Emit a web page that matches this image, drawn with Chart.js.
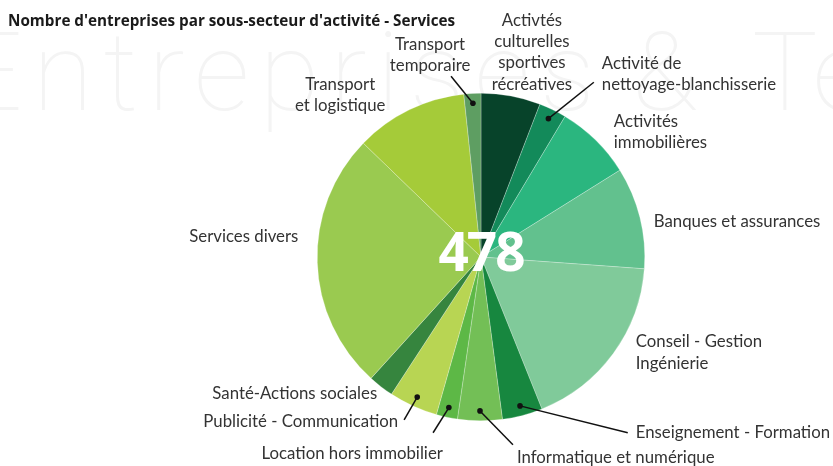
<!DOCTYPE html>
<html><head><meta charset="utf-8">
<script src="https://cdn.jsdelivr.net/npm/chart.js@4.4.1/dist/chart.umd.min.js"></script>
<style>html,body{margin:0;padding:0;background:#fff}#wrap{width:833px;height:466px;position:relative}</style>
</head><body><div id="wrap"><canvas id="c"></canvas></div>
<script>
const chartTitle = "Nombre d'entreprises par sous-secteur d'activité - Services";
const categories = [
  "Activtés culturelles sportives récréatives",
  "Activité de nettoyage-blanchisserie",
  "Activités immobilières",
  "Banques et assurances",
  "Conseil - Gestion Ingénierie",
  "Enseignement - Formation",
  "Informatique et numérique",
  "Location hors immobilier",
  "Publicité - Communication",
  "Santé-Actions sociales",
  "Services divers",
  "Transport et logistique",
  "Transport temporaire"
];
const labelLines = [
  ["Activtés", "culturelles", "sportives", "récréatives"],
  ["Activité de", "nettoyage-blanchisserie"],
  ["Activités", "immobilières"],
  ["Banques et assurances"],
  ["Conseil - Gestion", "Ingénierie"],
  ["Enseignement - Formation"],
  ["Informatique et numérique"],
  ["Location hors immobilier"],
  ["Publicité - Communication"],
  ["Santé-Actions sociales"],
  ["Services divers"],
  ["Transport", "et logistique"],
  ["Transport", "temporaire"]
];
const counts = [28, 13, 36, 48, 85, 19, 21, 10, 23, 12, 122, 53, 8];
const totalLabel = "478";
const colors = ["#07432A", "#138A5A", "#2BB67F", "#62C18E", "#80CA9A", "#17873F", "#73BF56",
                "#5DB846", "#B8D553", "#36853E", "#9ACA50", "#A5CB39", "#5E9E62"];

// label layout: offsets from pie centre, in px at reference radius 164
const labelLayout = [
  {dx: 51, dy: -237, align: "center", lineEnd: null},
  {dx: 121, dy: -194, align: "left", lineEnd: [113, -175]},
  {dx: 133, dy: -136, align: "left", lineEnd: null},
  {dx: 173, dy: -35, align: "left", lineEnd: null},
  {dx: 155, dy: 85, align: "left", lineEnd: null},
  {dx: 155, dy: 176, align: "left", lineEnd: [147, 176]},
  {dx: 36, dy: 201, align: "left", lineEnd: [32, 188]},
  {dx: -129, dy: 197, align: "center", lineEnd: [-48, 176]},
  {dx: -83, dy: 165, align: "right", lineEnd: [-77, 163]},
  {dx: -104, dy: 137, align: "right", lineEnd: null},
  {dx: -183, dy: -20, align: "right", lineEnd: null},
  {dx: -141, dy: -173, align: "center", lineEnd: null},
  {dx: -51, dy: -213, align: "center", lineEnd: [-30, -181]}
];

const decorPlugin = {
  id: "decor",
  beforeDraw(chart) {
    const ctx = chart.ctx;
    ctx.save();
    ctx.fillStyle = "#f4f4f4";
    ctx.font = "100 110px Roboto";
    ctx.textBaseline = "alphabetic";
    ctx.textAlign = "left";
    const w = ctx.measureText("Entreprises").width;
    ctx.letterSpacing = ((645 - w) / 11) + "px";
    ctx.fillText("Entreprises", -40, 110);
    ctx.letterSpacing = "0px";
    ctx.fillText("&", 632, 110);
    ctx.fillText("Te", 752, 110);
    ctx.restore();

    ctx.save();
    ctx.fillStyle = "#1a1a1a";
    ctx.font = "bold 15.25px 'Open Sans'";
    ctx.textBaseline = "alphabetic";
    ctx.textAlign = "left";
    ctx.fillText(chartTitle, 8, 26);
    ctx.restore();
  },
  afterDraw(chart) {
    const ctx = chart.ctx;
    const arcs = chart.getDatasetMeta(0).data;
    if (!arcs.length) return;
    const cx = arcs[0].x, cy = arcs[0].y;
    const R = arcs[0].outerRadius;
    const s = R / 164;
    ctx.save();
    arcs.forEach((arc, i) => {
      const L = labelLayout[i];
      if (L.lineEnd) {
        const mid = (arc.startAngle + arc.endAngle) / 2;
        const px = cx + Math.cos(mid) * R * 0.94;
        const py = cy + Math.sin(mid) * R * 0.94;
        ctx.strokeStyle = "#111";
        ctx.lineWidth = 1.5;
        ctx.beginPath();
        ctx.moveTo(px, py);
        ctx.lineTo(cx + L.lineEnd[0] * s, cy + L.lineEnd[1] * s);
        ctx.stroke();
        ctx.fillStyle = "#111";
        ctx.beginPath();
        ctx.arc(px, py, 2.8, 0, Math.PI * 2);
        ctx.fill();
      }
      ctx.fillStyle = "#333";
      ctx.font = "16.8px Lato";
      ctx.textAlign = L.align;
      ctx.textBaseline = "middle";
      labelLines[i].forEach((t, k) => {
        ctx.fillText(t, cx + L.dx * s, cy + (L.dy + k * 21.3) * s);
      });
    });
    ctx.fillStyle = "#fff";
    ctx.font = "bold 53px 'Open Sans'";
    ctx.textAlign = "center";
    ctx.textBaseline = "middle";
    ctx.letterSpacing = "-2px";
    ctx.fillText(totalLabel, cx, cy - 1);
    ctx.restore();
  }
};

new Chart(document.getElementById("c"), {
  type: "pie",
  data: {
    labels: categories,
    datasets: [{
      data: counts,
      backgroundColor: colors,
      borderColor: "rgba(255,255,255,0.5)",
      borderWidth: 0.5
    }]
  },
  options: {
    responsive: true,
    maintainAspectRatio: false,
    animation: false,
    layout: {padding: {top: 93, bottom: 45, left: 317, right: 188}},
    plugins: {legend: {display: false}, tooltip: {enabled: false}, title: {display: false}}
  },
  plugins: [decorPlugin]
});
</script>
</body></html>
